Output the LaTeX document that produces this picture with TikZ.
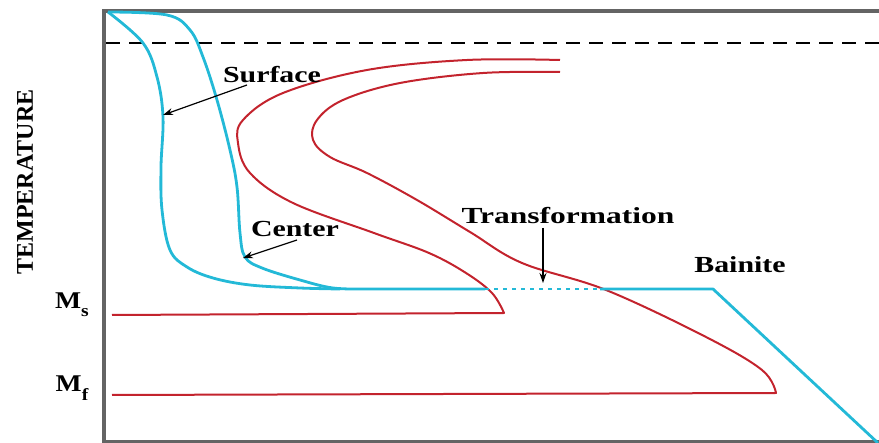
\documentclass[tikz,border=0pt]{standalone}
\usepackage{fontspec}
\setmainfont{Liberation Serif}
\usetikzlibrary{arrows.meta}
\definecolor{cy}{RGB}{35,185,215}
\definecolor{rd}{RGB}{195,35,45}
\definecolor{ax}{RGB}{100,100,100}
\tikzset{
  axisline/.style={draw=ax,line width=3.5pt},
  cyline/.style={draw=cy,line width=2.8pt,line join=round},
  rdline/.style={draw=rd,line width=2pt,line join=round},
  lbl/.style={font=\fontsize{23}{25}\selectfont\bfseries,inner sep=0pt},
  pointer/.style={draw=black,line width=1.2pt,-{Stealth[length=10pt,width=7pt]}}
}
\newcommand{\wide}[1]{\scalebox{1.3}[1]{#1}}
\begin{document}
\begin{tikzpicture}[x=1pt,y=-1pt]
\useasboundingbox (0,0) rectangle (879,443);
% axes
\draw[axisline] (104,443) -- (104,11) -- (879,11);
\draw[axisline] (104,442) -- (879,442);
% dashed line
\draw[black,line width=2.2pt,dash pattern=on 14pt off 9pt] (106,43) -- (879,43);
% red curves
\draw[rdline] plot[smooth,tension=0.6] coordinates {(560,60) (467,60) (367,70) (283,93) (243,120) (238,143) (250,173) (293,203) (374,233) (429,253) (466,273) (492,293) (504,313)} -- (112,315);
\draw[rdline] plot[smooth,tension=0.6] coordinates {(560,72) (483,73) (400,83) (343,100) (317,120) (313,140) (330,157) (367,173) (417,200) (470,232) (522,263) (606,290) (706,337) (762,370) (776,393)} -- (112,395);
% cyan curves
\draw[cyline] plot[smooth,tension=0.6] coordinates {(108,12) (143,43) (157,77) (163,117) (161,167) (162,210) (170,250) (187,267) (213,278) (250,285) (300,288) (340,289)};
\draw[cyline] plot[smooth,tension=0.6] coordinates {(108,12) (167,15) (190,30) (203,57) (217,100) (230,150) (237,187) (240,233) (245,257) (262,268) (300,280) (333,288) (367,289)} -- (485,289);
\draw[draw=cy,line width=2pt,dash pattern=on 4pt off 5pt] (485,289) -- (600,289);
\draw[cyline] (600,289) -- (713,289) -- (878,443);
% labels
\node[lbl] (surface) at (272,75) {\wide{Surface}};
\node[lbl] (center) at (295,229) {\wide{Center}};
\node[lbl] (transf) at (568,216) {\scalebox{1.37}[1]{Transformation}};
\node[lbl] (bainite) at (740,265) {\wide{Bainite}};
\node[lbl,rotate=90,font=\fontsize{24}{26}\selectfont\bfseries] (temp) at (25,182) {TEMPERATURE};
\node[lbl,font=\fontsize{24}{26}\selectfont\bfseries] (ms) at (72,305) {\scalebox{1.15}[1]{M\raisebox{-0.35em}{\fontsize{17}{17}\selectfont s}}};
\node[lbl,font=\fontsize{24}{26}\selectfont\bfseries] (mf) at (72,388) {\scalebox{1.15}[1]{M\raisebox{-0.35em}{\fontsize{17}{17}\selectfont f}}};
% arrows
\coordinate (surftail) at (247,85);
\coordinate (surftip) at (163,115);
\coordinate (centtail) at (297,240);
\coordinate (centtip) at (243,258);
\coordinate (trtail) at (543,228);
\coordinate (trtip) at (543,283);
\draw[pointer] (surftail) -- (surftip);
\draw[pointer] (centtail) -- (centtip);
\draw[pointer] (trtail) -- (trtip);
\end{tikzpicture}
\end{document}
